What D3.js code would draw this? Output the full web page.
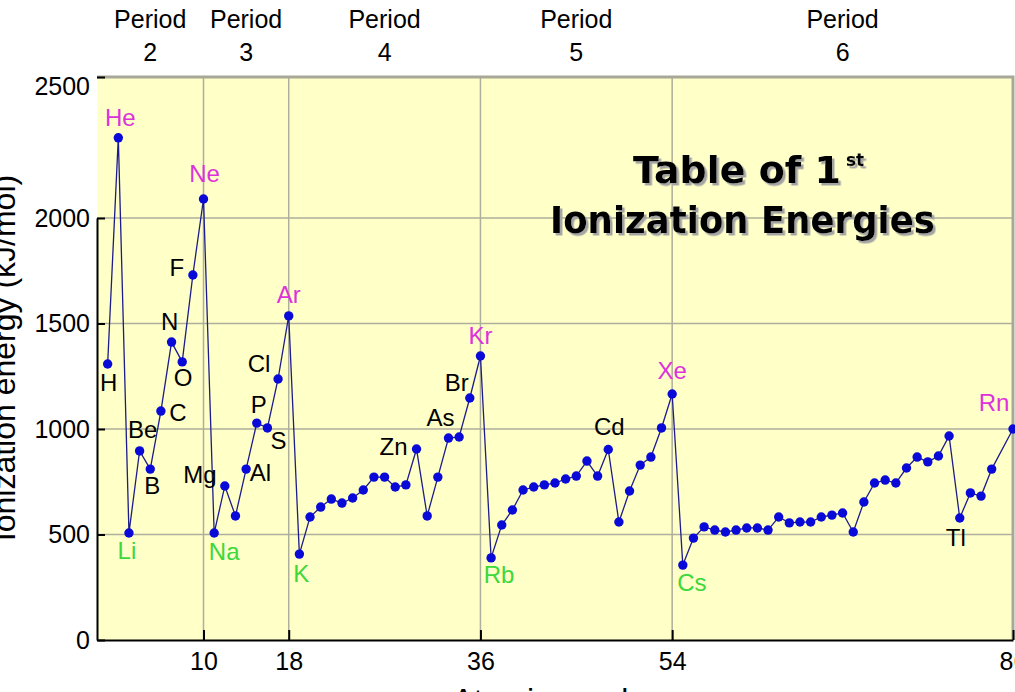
<!DOCTYPE html>
<html>
<head>
<meta charset="utf-8">
<script src="https://cdn.jsdelivr.net/npm/d3@7"></script>
<style>
  body { margin: 0; background: #fff; }
  svg { display: block; font-family: "Liberation Sans", Arial, sans-serif; }
  .grid line { stroke: #aeae9c; stroke-width: 1.5; }
  .axis path, .axis line { stroke: #000; stroke-width: 2; }
  .axis text { font-size: 25px; fill: #000; }
</style>
</head>
<body>
<svg id="chart" width="1015" height="692"></svg>
<script>
// atomic numbers 1..86, first ionization energy in kJ/mol
var symbols = ["H","He","Li","Be","B","C","N","O","F","Ne",
  "Na","Mg","Al","Si","P","S","Cl","Ar","K","Ca",
  "Sc","Ti","V","Cr","Mn","Fe","Co","Ni","Cu","Zn",
  "Ga","Ge","As","Se","Br","Kr","Rb","Sr","Y","Zr",
  "Nb","Mo","Tc","Ru","Rh","Pd","Ag","Cd","In","Sn",
  "Sb","Te","I","Xe","Cs","Ba","La","Ce","Pr","Nd",
  "Pm","Sm","Eu","Gd","Tb","Dy","Ho","Er","Tm","Yb",
  "Lu","Hf","Ta","W","Re","Os","Ir","Pt","Au","Hg",
  "Tl","Pb","Bi","Po","At","Rn"];
var energies = [1308, 2380, 507, 896, 810, 1085, 1412, 1318, 1730, 2090,
  507, 730, 588, 810, 1028, 1005, 1237, 1536, 407, 583,
  630, 668, 649, 673, 711, 772, 772, 725, 735, 905,
  588, 772, 957, 962, 1147, 1346, 389, 545, 616, 711,
  725, 735, 744, 763, 777, 848, 777, 903, 559, 706,
  829, 867, 1005, 1166, 355, 483, 536, 521, 512, 521,
  531, 531, 521, 583, 555, 559, 559, 583, 592, 602,
  512, 654, 744, 758, 744, 815, 867, 844, 872, 967,
  578, 697, 682, 810, null, 1000];

var nobleGases = ["He","Ne","Ar","Kr","Xe","Rn"];
var alkaliMetals = ["Li","Na","K","Rb","Cs"];

var periodBounds = [0, 10, 18, 36, 54, 86];
var periodNames = ["2", "3", "4", "5", "6"];
var xTicks = [10, 18, 36, 54, 86];
var yTicks = [0, 500, 1000, 1500, 2000, 2500];
var yGrid = [500, 1000, 1500, 2000];

// where each element label sits relative to its point (px)
var labelOffsets = {
  H: [1, 18], He: [2, -20], Li: [-2, 17], Be: [3, -22], B: [2, 16],
  C: [17, 1], N: [-2, -21], O: [1, 15], F: [-16, -8], Ne: [1, -26],
  Na: [10, 18], Mg: [-25, -12], Al: [25, -44], P: [2, -19], S: [11, 12],
  Cl: [-19, -16], Ar: [0, -22], K: [2, 19], Zn: [-23, -3], As: [-8, -21],
  Br: [-13, -16], Kr: [0, -21], Rb: [8, 16], Cd: [1, -23], Xe: [0, -24],
  Cs: [9, 17], Tl: [-4, 19], Rn: [-19, -27]
};

var points = symbols.map((s, i) => ({ z: i + 1, sym: s, ie: energies[i] }))
  .filter(d => d.ie != null);

var svg = d3.select("#chart");
var pLeft = 97, pRight = 1013, pTop = 77, pBottom = 640;

var x = d3.scaleLinear().domain([0, 86]).range([pLeft, pRight]);
// the picture's value scale: 2000 sits at 218px, the frame top is a bit above 2500
var y = d3.scaleLinear().domain([0, 2000]).range([pBottom, 218]);
var yTop = y.invert(pTop);

var defs = svg.append("defs");
defs.append("filter").attr("id", "shadow")
  .attr("x", "-5%").attr("y", "-20%").attr("width", "110%").attr("height", "140%")
  .append("feDropShadow")
  .attr("dx", 2.5).attr("dy", 2.5).attr("stdDeviation", 0.6)
  .attr("flood-color", "#a4a4a4").attr("flood-opacity", 1);

svg.append("rect")
  .attr("x", pLeft).attr("y", pTop)
  .attr("width", pRight - pLeft).attr("height", pBottom - pTop)
  .attr("fill", "#ffffc8");

// grid
var grid = svg.append("g").attr("class", "grid");
grid.selectAll(".vg").data(xTicks.filter(d => d < 86)).enter().append("line")
  .attr("x1", d => x(d)).attr("x2", d => x(d))
  .attr("y1", pTop).attr("y2", pBottom);
grid.selectAll(".hg").data(yGrid).enter().append("line")
  .attr("x1", pLeft).attr("x2", pRight)
  .attr("y1", d => y(d)).attr("y2", d => y(d));

// gray top and right frame
svg.append("path")
  .attr("d", "M" + pLeft + "," + pTop + "H" + pRight + "V" + pBottom)
  .attr("fill", "none").attr("stroke", "#a8a898").attr("stroke-width", 3);

// axes
var yAxis = d3.axisLeft(y)
  .tickValues(yTicks.map(v => v === 2500 ? yTop : v))
  .tickFormat((v, i) => yTicks[i])
  .tickSize(-8).tickSizeOuter(0).tickPadding(7);
var gy = svg.append("g").attr("class", "axis")
  .attr("transform", "translate(" + pLeft + ",0)")
  .call(yAxis);
gy.selectAll(".tick").filter((v, i) => i === yTicks.length - 1)
  .select("text").attr("dy", "0.7em");

var xAxis = d3.axisBottom(x)
  .tickValues(xTicks).tickFormat(d3.format("d"))
  .tickSize(-10).tickSizeOuter(0).tickPadding(12);
svg.append("g").attr("class", "axis")
  .attr("transform", "translate(0," + pBottom + ")")
  .call(xAxis);

// period labels above the frame
var periods = periodNames.map((p, i) => ({
  name: p, mid: (x(periodBounds[i]) + x(periodBounds[i + 1])) / 2
}));
var pl = svg.append("g").selectAll("text").data(periods).enter().append("text")
  .attr("text-anchor", "middle").attr("font-size", 25);
pl.append("tspan").attr("x", d => d.mid).attr("y", 28).text("Period");
pl.append("tspan").attr("x", d => d.mid).attr("y", 61).text(d => d.name);

// axis titles, mostly cut off by the page edge
svg.append("text")
  .attr("transform", "translate(15,358) rotate(-90)")
  .attr("text-anchor", "middle").attr("font-size", 32)
  .text("Ionization energy (kJ/mol)");
svg.append("text")
  .attr("x", 560).attr("y", 711)
  .attr("text-anchor", "middle").attr("font-size", 32)
  .text("Atomic number");

// line and points
svg.append("path")
  .datum(points)
  .attr("fill", "none")
  .attr("stroke", "#1c1c8c")
  .attr("stroke-width", 1.3)
  .attr("d", d3.line().x(d => x(d.z)).y(d => y(d.ie)));

svg.append("g").selectAll("circle").data(points).enter().append("circle")
  .attr("cx", d => x(d.z)).attr("cy", d => y(d.ie))
  .attr("r", 4.7).attr("fill", "#0a0ad8");

// element labels
var labelColor = function (s) {
  if (nobleGases.indexOf(s) >= 0) return "#dc32dc";
  if (alkaliMetals.indexOf(s) >= 0) return "#3cd83c";
  return "#000";
};
svg.append("g").selectAll("text")
  .data(points.filter(d => labelOffsets[d.sym]))
  .enter().append("text")
  .attr("x", d => x(d.z) + labelOffsets[d.sym][0])
  .attr("y", d => y(d.ie) + labelOffsets[d.sym][1])
  .attr("dy", "0.36em")
  .attr("text-anchor", "middle")
  .attr("font-size", 24)
  .attr("fill", d => labelColor(d.sym))
  .text(d => d.sym);

// title with a soft drop shadow
var title = svg.append("g")
  .attr("font-family", "'DejaVu Sans', sans-serif")
  .attr("font-weight", "bold")
  .attr("filter", "url(#shadow)");
title.append("text").attr("x", 633).attr("y", 183).attr("font-size", 38)
  .attr("textLength", 208).attr("lengthAdjust", "spacingAndGlyphs")
  .text("Table of 1");
title.append("text").attr("x", 846).attr("y", 166).attr("font-size", 17)
  .text("st");
title.append("text").attr("x", 550).attr("y", 233).attr("font-size", 38)
  .attr("textLength", 385).attr("lengthAdjust", "spacingAndGlyphs")
  .text("Ionization Energies");
</script>
</body>
</html>
